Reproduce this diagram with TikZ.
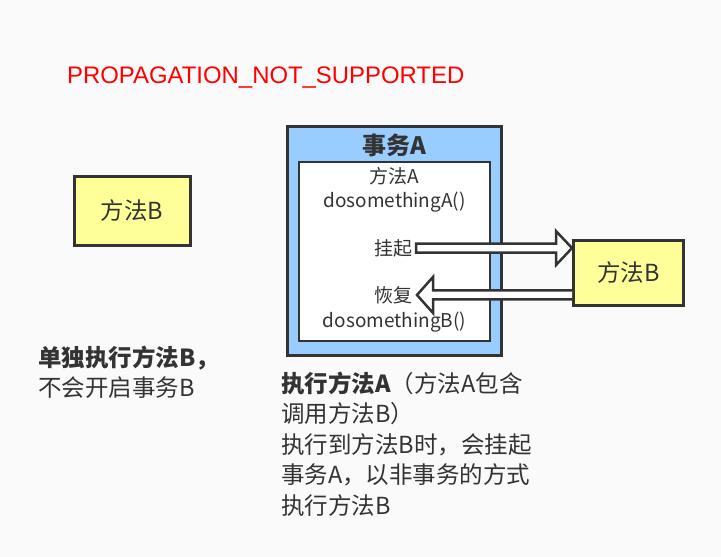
\documentclass[tikz,border=0pt]{standalone}
\usepackage{fontspec}
\setmainfont{Noto Sans CJK SC}
\newfontfamily\titlefont{Liberation Sans}
\usepackage{xcolor}
\definecolor{paper}{HTML}{FAFAFA}
\definecolor{methodyellow}{HTML}{FFFF99}
\definecolor{txblue}{HTML}{99CCFF}
\definecolor{edge}{HTML}{333333}
\definecolor{ink}{HTML}{333333}
\usetikzlibrary{calc,positioning}

\begin{document}
\begin{tikzpicture}[
  x=1pt, y=-1pt,
  box/.style={draw=edge,line width=3pt,fill=methodyellow,inner sep=0pt,text=ink,font=\fontsize{23.5}{28}\selectfont},
  txt/.style={inner sep=0pt,text=ink},
  small/.style={font=\fontsize{19}{24}\selectfont},
  big/.style={font=\fontsize{23.5}{30.5}\selectfont},
  fatarrow/.style={draw=edge,line width=2.5pt,fill=white,line join=miter}
]
  \fill[paper] (0,0) rectangle (721,557);
  \useasboundingbox (0,0) rectangle (721,557);

  % Title
  \node[txt,anchor=base west,text=red,font=\titlefont\fontsize{23.9}{28}\selectfont] (title) at (67,83) {PROPAGATION\_NOT\_SUPPORTED};

  % Method B alone (base = last line)
  \node[box,minimum width=116pt,minimum height=69pt] (alone) at (132,211) {方法B};
  \node[txt,big,anchor=base west,align=left] (alonenote) at (38,396.5) {\textbf{单独执行方法B，}\\不会开启事务B};

  % Transaction A with method A inside
  \node[draw=edge,line width=3pt,fill=txblue,minimum width=214pt,minimum height=229pt] (txa) at (394.5,241) {};
  \node[draw=edge,line width=2.5pt,fill=white,minimum width=191pt,minimum height=179pt] (mA) at (394.5,251.5) {};
  \node[txt,anchor=base,font=\bfseries\fontsize{24}{26}\selectfont] (txaname) at (394.5,154.1) {事务A};
  \node[txt,small,anchor=base,align=center] (mAname) at (394.5,207.2) {方法A\\dosomethingA()};
  \node[txt,small,anchor=base east] (gq) at (413,255.2) {挂起};
  \node[txt,small,anchor=base east] (hf) at (413,302.2) {恢复};
  \node[txt,small,anchor=base] (callB) at (394.5,327.2) {dosomethingB()};

  % Method B called from A
  \node[box,minimum width=110pt,minimum height=65pt] (rb) at (628.5,273) {方法B};

  % Suspend / resume arrows
  \draw[fatarrow] ($(gq.east)+(3,-4.5)$) -- ($(rb.west |- gq.east)+(-16,-4.5)$) -- ($(rb.west |- gq.east)+(-16,-17)$)
    -- (rb.west |- gq.east) -- ($(rb.west |- gq.east)+(-16,17)$) -- ($(rb.west |- gq.east)+(-16,4.5)$) -- ($(gq.east)+(3,4.5)$) -- cycle;
  \draw[fatarrow] ($(rb.west |- hf.east)+(0,-4.5)$) -- ($(hf.east)+(20,-4.5)$) -- ($(hf.east)+(20,-18)$)
    -- ($(hf.east)+(4,0)$) -- ($(hf.east)+(20,18)$) -- ($(hf.east)+(20,4.5)$) -- ($(rb.west |- hf.east)+(0,4.5)$);

  % Explanation (base = last line)
  \node[txt,big,anchor=base west,align=left] (note) at (281,514) {\textbf{执行方法A}（方法A包含\\调用方法B）\\执行到方法B时，会挂起\\事务A，以非事务的方式\\执行方法B};
\end{tikzpicture}
\end{document}
